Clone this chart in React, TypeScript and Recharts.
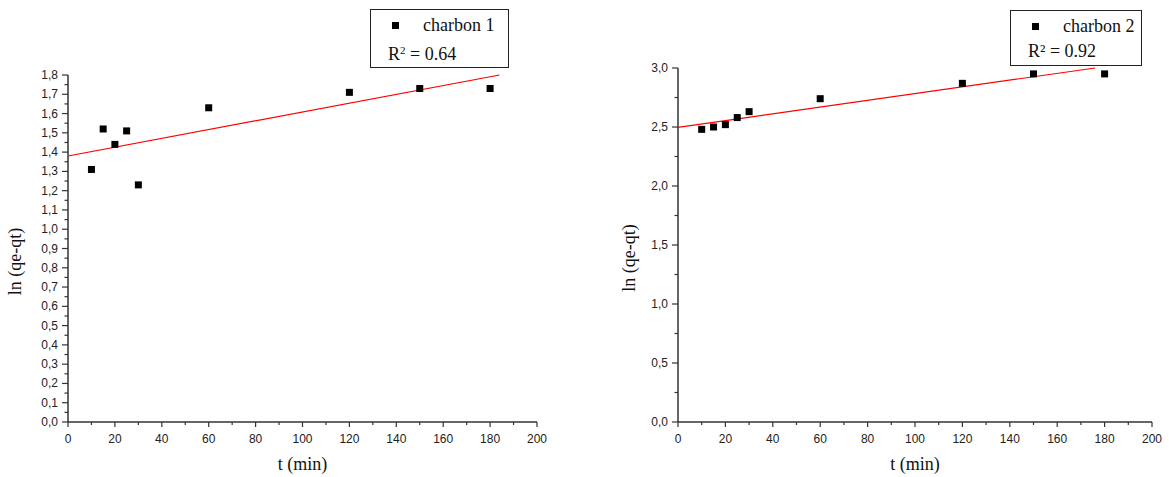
import * as React from "react"
import { ScatterChart, Scatter, XAxis, YAxis } from "recharts"

const T_MIN = [10, 15, 20, 25, 30, 60, 120, 150, 180]
const CHARBON_1 = [1.31, 1.52, 1.44, 1.51, 1.23, 1.63, 1.71, 1.73, 1.73]
const CHARBON_2 = [2.48, 2.5, 2.52, 2.58, 2.63, 2.74, 2.87, 2.95, 2.95]

// fitted line endpoints (t, ln)
const FIT_1 = [
  { t: 0, v: 1.38 },
  { t: 184, v: 1.8 },
]
const FIT_2 = [
  { t: 0, v: 2.497 },
  { t: 176, v: 3.0 },
]

const X_MAJOR = [0, 20, 40, 60, 80, 100, 120, 140, 160, 180, 200]
const X_MINOR = [10, 30, 50, 70, 90, 110, 130, 150, 170, 190]
const Y1_MAJOR = [0, 0.1, 0.2, 0.3, 0.4, 0.5, 0.6, 0.7, 0.8, 0.9, 1.0, 1.1, 1.2, 1.3, 1.4, 1.5, 1.6, 1.7, 1.8]
const Y1_MINOR = [0.05, 0.15, 0.25, 0.35, 0.45, 0.55, 0.65, 0.75, 0.85, 0.95, 1.05, 1.15, 1.25, 1.35, 1.45, 1.55, 1.65, 1.75]
const Y2_MAJOR = [0, 0.5, 1.0, 1.5, 2.0, 2.5, 3.0]
const Y2_MINOR = [0.25, 0.75, 1.25, 1.75, 2.25, 2.75]

const SANS = "'Liberation Sans', Arial, sans-serif"
const SERIF = "'Liberation Serif', 'Times New Roman', serif"
const AXIS = "#333"

const isMajor = (list: number[], v: number) => list.some((m) => Math.abs(m - v) < 1e-6)
const fmt = (v: number, digits: number) => (digits === 0 ? String(v) : v.toFixed(digits).replace(".", ","))

function XTick({ x, y, payload }: any) {
  const major = isMajor(X_MAJOR, payload.value)
  return (
    <g>
      <line x1={x} x2={x} y1={y} y2={y + (major ? 5 : 3)} stroke={AXIS} strokeWidth={1.2} />
      {major && (
        <text x={x} y={y + 21} textAnchor="middle" fontFamily={SANS} fontSize={12} fill="#222">
          {fmt(payload.value, 0)}
        </text>
      )}
    </g>
  )
}

function makeYTick(majors: number[]) {
  return function YTick({ x, y, payload }: any) {
    const major = isMajor(majors, payload.value)
    return (
      <g>
        <line x1={x} x2={x - (major ? 6 : 3.5)} y1={y} y2={y} stroke={AXIS} strokeWidth={1.2} />
        {major && (
          <text x={x - 10} y={y + 4} textAnchor="end" fontFamily={SANS} fontSize={12} fill="#222">
            {fmt(payload.value, 1)}
          </text>
        )}
      </g>
    )
  }
}

const Square = ({ cx, cy }: any) => <rect x={cx - 3.5} y={cy - 3.5} width={7} height={7} fill="#000" />

interface PanelProps {
  left: number
  width: number
  marginLeft: number
  marginRight: number
  top: number
  values: number[]
  fit: { t: number; v: number }[]
  yMax: number
  yMajor: number[]
  yMinor: number[]
  yTitleShift: number
  legend: React.ReactNode
  legendBox: { left: number; top: number; width: number; height: number }
}

function Panel(p: PanelProps) {
  const points = T_MIN.map((t, i) => ({ t, v: p.values[i] }))
  const YTick = makeYTick(p.yMajor)
  return (
    <div style={{ position: "absolute", left: p.left, top: 0, width: p.width, height: 477 }}>
      <ScatterChart
        width={p.width}
        height={477}
        margin={{ top: p.top, right: p.marginRight, bottom: 5, left: p.marginLeft }}
      >
        <XAxis
          type="number"
          dataKey="t"
          domain={[0, 200]}
          ticks={[...X_MAJOR, ...X_MINOR].sort((a, b) => a - b)}
          interval={0}
          tick={<XTick />}
          tickLine={false}
          tickSize={0}
          tickMargin={0}
          height={50}
          axisLine={{ stroke: AXIS, strokeWidth: 1.5 }}
          label={({ viewBox }: any) => (
            <text
              x={viewBox.x + viewBox.width / 2}
              y={viewBox.y + 48}
              textAnchor="middle"
              fontFamily={SERIF}
              fontSize={18}
              fill="#111"
            >
              t (min)
            </text>
          )}
        />
        <YAxis
          type="number"
          dataKey="v"
          domain={[0, p.yMax]}
          ticks={[...p.yMajor, ...p.yMinor].sort((a, b) => a - b)}
          interval={0}
          tick={<YTick />}
          tickLine={false}
          tickSize={0}
          tickMargin={0}
          width={60}
          axisLine={{ stroke: AXIS, strokeWidth: 1.5 }}
          label={({ viewBox }: any) => (
            <text
              transform={`translate(${viewBox.x + viewBox.width - p.yTitleShift}, ${viewBox.y + viewBox.height / 2 + 13}) rotate(-90)`}
              textAnchor="middle"
              dominantBaseline="central"
              fontFamily={SERIF}
              fontSize={18}
              fill="#111"
            >
              ln (qe-qt)
            </text>
          )}
        />
        <Scatter
          data={p.fit}
          line={{ stroke: "#ff0000", strokeWidth: 1.2 }}
          shape={() => <g />}
          isAnimationActive={false}
        />
        <Scatter data={points} shape={<Square />} isAnimationActive={false} />
      </ScatterChart>
      <div
        style={{
          position: "absolute",
          left: p.legendBox.left,
          top: p.legendBox.top,
          width: p.legendBox.width,
          height: p.legendBox.height,
          border: "1.2px solid #222",
          background: "#fff",
          boxSizing: "border-box",
          fontFamily: SERIF,
          fontSize: 18,
          color: "#111",
        }}
      >
        {p.legend}
      </div>
    </div>
  )
}

function LegendContent({ name, r2 }: { name: string; r2: React.ReactNode }) {
  return (
    <>
      <div style={{ position: "absolute", left: 21, top: 12, width: 7, height: 7, background: "#000" }} />
      <div style={{ position: "absolute", left: 52, top: 5, whiteSpace: "nowrap", lineHeight: "20px" }}>{name}</div>
      <div style={{ position: "absolute", left: 17, top: 30, whiteSpace: "nowrap", lineHeight: "20px" }}>{r2}</div>
    </>
  )
}

export default function App() {
  return (
    <div style={{ position: "absolute", left: 0, top: 0, width: 1169, height: 477, background: "#fff" }}>
      <Panel
        left={0}
        width={560}
        marginLeft={8}
        marginRight={23}
        top={75}
        values={CHARBON_1}
        fit={FIT_1}
        yMax={1.8}
        yMajor={Y1_MAJOR}
        yMinor={Y1_MINOR}
        yTitleShift={53}
        legendBox={{ left: 370, top: 9, width: 139, height: 59 }}
        legend={
          <LegendContent
            name="charbon 1"
            r2={
              <>
                R<sup style={{ fontSize: 11, verticalAlign: "6px" }}>2</sup> = 0.64
              </>
            }
          />
        }
      />
      <Panel
        left={600}
        width={569}
        marginLeft={18}
        marginRight={17}
        top={68}
        values={CHARBON_2}
        fit={FIT_2}
        yMax={3}
        yMajor={Y2_MAJOR}
        yMinor={Y2_MINOR}
        yTitleShift={49}
        legendBox={{ left: 410, top: 10, width: 132, height: 56 }}
        legend={<LegendContent name="charbon 2" r2="R² = 0.92" />}
      />
    </div>
  )
}
